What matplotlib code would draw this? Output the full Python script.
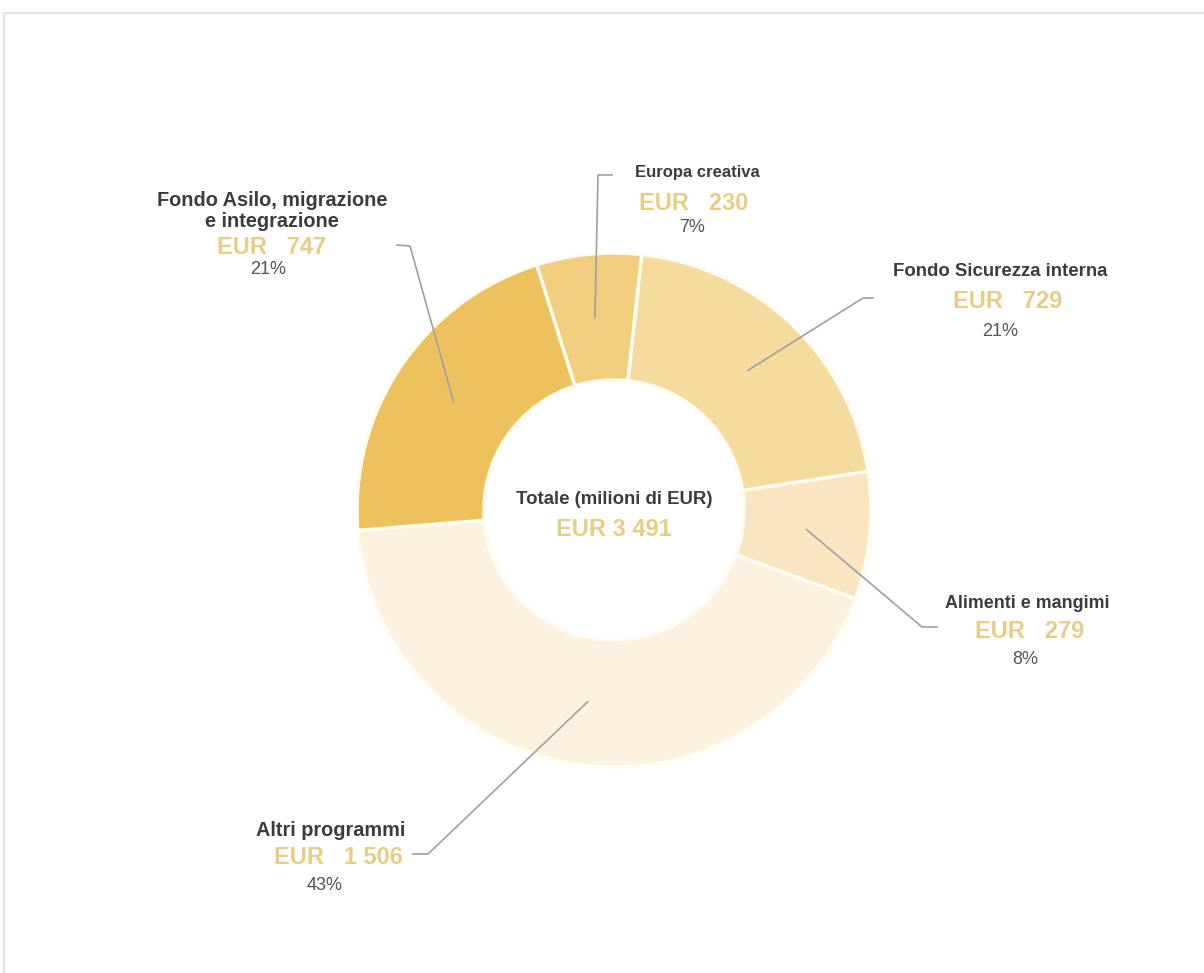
import numpy as np
import matplotlib.pyplot as plt
from matplotlib.patches import Rectangle

plt.rcParams['font.family'] = ['Liberation Sans Narrow', 'Liberation Sans', 'DejaVu Sans']

# Data (milioni di EUR), clockwise from the top
categories = ['Europa creativa',
              'Fondo Sicurezza interna',
              'Alimenti e mangimi',
              'Altri programmi',
              'Fondo Asilo, migrazione\ne integrazione']
values = [230, 729, 279, 1506, 747]
colors = ['#F2CF7E', '#F6DB9F', '#F9E6C0', '#FCF2DF', '#EDC15D']
total_title = 'Totale (milioni di EUR)'

W, H = 1204, 973


def fy(y_px):
    # pixel row (top down) -> axes y (bottom up)
    return H - y_px


# Layout in pixels: title centre, eur y, pct y, leader elbow, leader end
title_xy = [(697, 172), (1000, 272), (1027, 604), (331, 830), (272, 211)]
title_size = [12, 13.4, 12.9, 14.3, 14.3]
eur_xy = [(694, 203), (1008, 302), (1030, 632), (338, 858), (272, 247)]
pct_xy = [(692, 228), (1000, 331), (1025, 660), (325, 885), (268, 270)]
elbows = [(598, 175), (863, 298), (922, 627), (428, 854), (410, 246)]
ends = [(612, 175), (873, 298), (937, 627), (413, 854), (397, 245)]

centre = (614, fy(510))
r_out = 257
r_in = 130

fig = plt.figure(figsize=(W / 100, H / 100), dpi=100)
ax = fig.add_axes([0, 0, 1, 1])

wedges, _ = ax.pie(values, colors=colors, startangle=107.5, counterclock=False,
                   radius=r_out, center=centre,
                   wedgeprops=dict(width=r_out - r_in, edgecolor='#FFFCF2', linewidth=2.5))

ax.set_xlim(0, W)
ax.set_ylim(0, H)
ax.set_aspect('equal')
ax.axis('off')

# faint frame of the original screenshot
ax.add_patch(Rectangle((4, -10), W + 20, fy(13) + 10, fill=False,
                       edgecolor='#E4E4E4', linewidth=1.5))

total = sum(values)
r_mid = (r_out + r_in) / 2
for i, w in enumerate(wedges):
    ang = np.deg2rad((w.theta1 + w.theta2) / 2)
    x0 = centre[0] + r_mid * np.cos(ang)
    y0 = centre[1] + r_mid * np.sin(ang)
    ex, ey = elbows[i]
    nx, ny = ends[i]
    ax.plot([x0, ex, nx], [y0, fy(ey), fy(ny)], color='#A0A0A0', linewidth=1.2)

    tx, ty = title_xy[i]
    ax.text(tx, fy(ty), categories[i], ha='center', va='center', fontsize=title_size[i],
            fontweight='bold', color='#3C3C3C', linespacing=1.15)
    vx, vy = eur_xy[i]
    amount = f'{values[i]:,}'.replace(',', ' ')
    ax.text(vx, fy(vy), f'EUR   {amount}', ha='center', va='center', fontsize=17,
            fontweight='bold', color='#E8CD86')
    px, py = pct_xy[i]
    ax.text(px, fy(py), f'{round(values[i] / total * 100)}%', ha='center',
            va='center', fontsize=13, color='#555555')

ax.text(centre[0], fy(500), total_title, ha='center', va='center', fontsize=13.4,
        fontweight='bold', color='#3C3C3C')
ax.text(centre[0], fy(530), 'EUR ' + f'{total:,}'.replace(',', ' '), ha='center',
        va='center', fontsize=17, fontweight='bold', color='#E8CD86')

fig.savefig('out.png', dpi=100, facecolor='white')
